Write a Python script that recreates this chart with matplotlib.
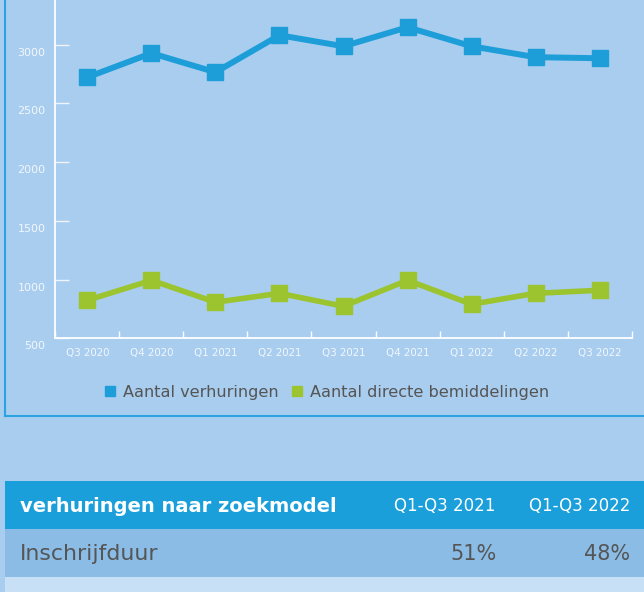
import matplotlib
matplotlib.use("Agg")
import matplotlib.pyplot as plt
from matplotlib.lines import Line2D
from matplotlib.patches import Rectangle
from matplotlib.transforms import ScaledTranslation

quarters = ["Q3 2020", "Q4 2020", "Q1 2021", "Q2 2021", "Q3 2021",
            "Q4 2021", "Q1 2022", "Q2 2022", "Q3 2022"]
verhuringen = [2723, 2928, 2766, 3081, 2987, 3149, 2987, 2894, 2885]
bemiddelingen = [824, 994, 807, 883, 773, 994, 790, 883, 909]
yticks = [500, 1000, 1500, 2000, 2500, 3000]
series_names = ["Aantal verhuringen", "Aantal directe bemiddelingen"]

table_title = "verhuringen naar zoekmodel"
table_periods = ["Q1-Q3 2021", "Q1-Q3 2022"]
table_rows = ["Inschrijfduur"]
table_values = [["51%", "48%"]]

BG = "#A9CDEF"
BLUE = "#1E9ED8"
GREEN = "#9CC42E"
HEADER = "#1A9FDB"
ROW1 = "#8ABCE6"
ROW2 = "#C8E0F5"
GRAY = "#555555"

W, H = 644, 592
fig = plt.figure(figsize=(W / 100, H / 100), dpi=100, facecolor=BG)

ax = fig.add_axes([55.4 / W, (H - 338.3) / H, (631.6 - 55.4) / W, 338.3 / H])
ax.set_facecolor(BG)
x = list(range(len(quarters)))
ax.plot(x, verhuringen, color=BLUE, lw=4.3, marker="s", ms=12.2, solid_joinstyle="miter")
ax.plot(x, bemiddelingen, color=GREEN, lw=4.0, marker="s", ms=12.2, solid_joinstyle="miter")
ax.set_xlim(-0.5, len(quarters) - 0.5)
ax.set_ylim(500, 3381)

for s in ["top", "right"]:
    ax.spines[s].set_visible(False)
for s in ["left", "bottom"]:
    ax.spines[s].set_color("white")
    ax.spines[s].set_linewidth(1.3)

ax.set_yticks(yticks)
ax.set_yticklabels([str(v) for v in yticks])
ax.tick_params(axis="y", direction="in", length=10, width=1.0, colors="#EEF5FC",
               labelsize=8, pad=7.2, labelcolor="#F2F7FD")
off = ScaledTranslation(0, -7 / 100, fig.dpi_scale_trans)
for lab in ax.get_yticklabels():
    lab.set_transform(lab.get_transform() + off)

ax.set_xticks(x)
ax.set_xticklabels(quarters)
ax.tick_params(axis="x", which="major", length=0, labelsize=7.4, pad=7,
               labelcolor="#F2F7FD")
ax.set_xticks([i - 0.5 for i in range(len(quarters) + 1)], minor=True)
ax.tick_params(axis="x", which="minor", direction="in", length=5, width=1.0,
               colors="white")

handles = [Line2D([], [], marker="s", linestyle="none", color=c, markersize=7.2)
           for c in (BLUE, GREEN)]
leg = fig.legend(handles, series_names, loc="center", bbox_to_anchor=(326.5 / W, 1 - 392 / H),
                 ncol=2, frameon=False, fontsize=11.6, handlelength=0.8,
                 handletextpad=0.4, columnspacing=0.75, borderpad=0)
for t in leg.get_texts():
    t.set_color(GRAY)

# panel border
fig.add_artist(Line2D([5 / W, 5 / W], [1, 1 - 415.7 / H], transform=fig.transFigure,
                      color="#2BA3E0", lw=1.5))
fig.add_artist(Line2D([5 / W, 1], [1 - 415.7 / H, 1 - 415.7 / H], transform=fig.transFigure,
                      color="#2BA3E0", lw=1.5))

# table
def fy(p):
    return 1 - p / H

fig.add_artist(Rectangle((5 / W, fy(529.3)), 1, (529.3 - 481) / H, transform=fig.transFigure,
                         facecolor=HEADER, edgecolor="none"))
fig.add_artist(Rectangle((5 / W, fy(576.7)), 1, (576.7 - 529.3) / H, transform=fig.transFigure,
                         facecolor=ROW1, edgecolor="none"))
fig.add_artist(Rectangle((5 / W, 0), 1, (592 - 576.7) / H, transform=fig.transFigure,
                         facecolor=ROW2, edgecolor="none"))

fig.text(19.7 / W, fy(506), table_title, color="white", fontsize=14, fontweight="bold",
         ha="left", va="center")
col_right = [495.7, 630.4]
for xr, p in zip(col_right, table_periods):
    fig.text(xr / W, fy(506), p, color="white", fontsize=12, ha="right", va="center")
for r, (name, vals) in enumerate(zip(table_rows, table_values)):
    yc = 554 + r * 47
    fig.text(19.7 / W, fy(yc), name, color=GRAY, fontsize=15.8, ha="left", va="center")
    for xr, v in zip([497, 630.4], vals):
        fig.text(xr / W, fy(yc), v, color=GRAY, fontsize=15, ha="right", va="center")

fig.savefig("out.png", dpi=100, facecolor=BG)
